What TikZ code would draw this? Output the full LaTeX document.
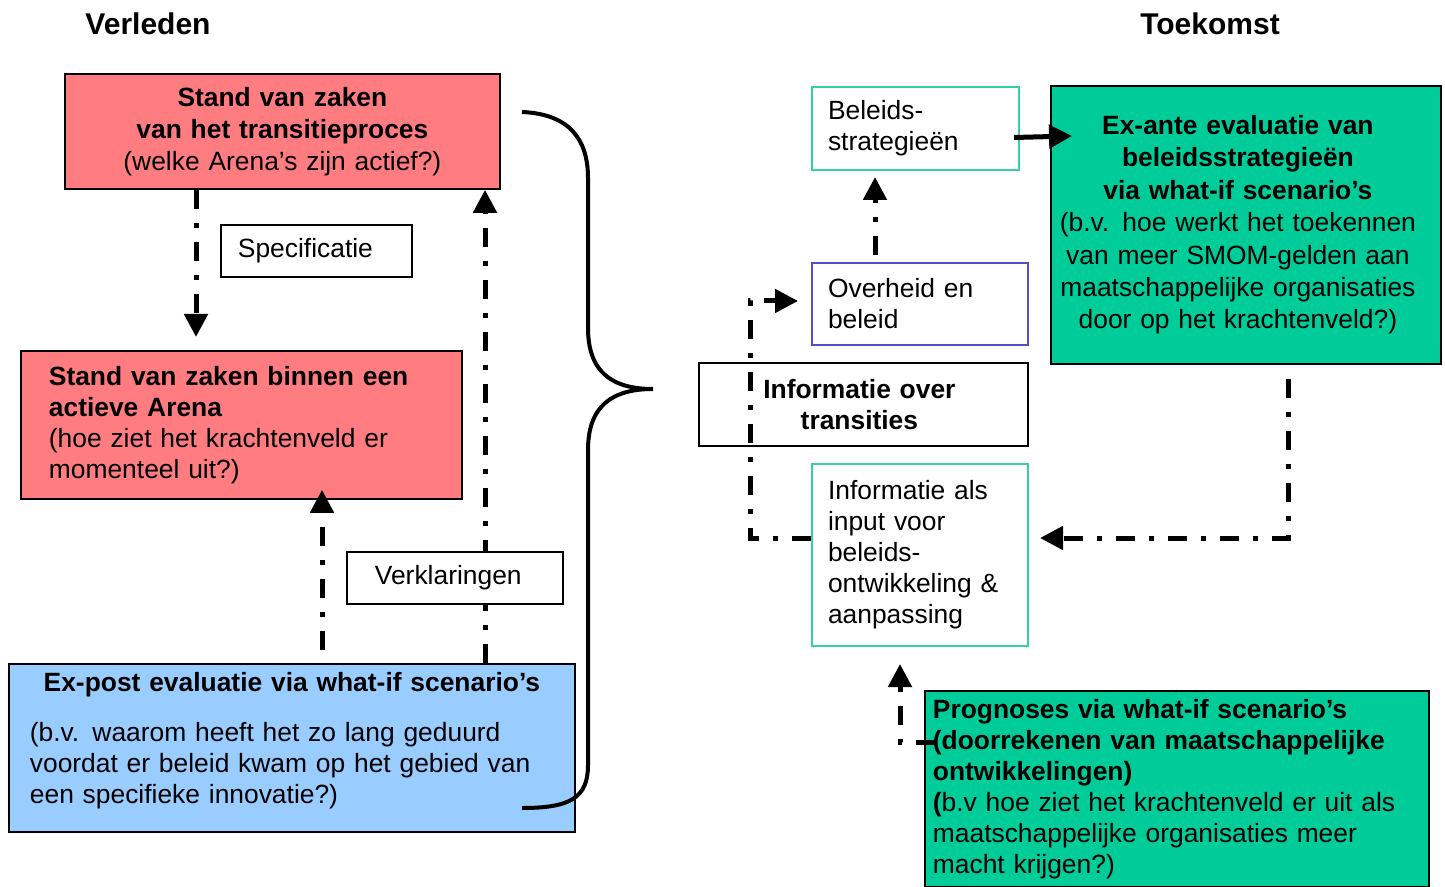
\documentclass[tikz,border=0pt]{standalone}
\usepackage{fontspec}
\setmainfont{Liberation Sans}
\usetikzlibrary{arrows.meta,positioning,calc}
\definecolor{coral}{HTML}{FF7C80}
\definecolor{skyblue}{HTML}{99CCFF}
\definecolor{seagreen}{HTML}{00CC99}
\definecolor{tealline}{HTML}{33D1A3}
\definecolor{bluline}{HTML}{5050C8}

\begin{document}
\begin{tikzpicture}[x=0.5pt,y=-0.5pt,
    font=\fontsize{13.2}{15.5}\selectfont,
    box/.style={draw,line width=0.9pt,anchor=north west,inner xsep=4pt,inner ysep=0pt},
    thinbox/.style={box,line width=1pt,inner xsep=8pt,align=left},
    heading/.style={font=\fontsize{15}{18}\selectfont\bfseries},
    flow/.style={line width=2.5pt,dash pattern=on 9.5pt off 7pt on 2.5pt off 7pt,
      -{Triangle[length=11.5pt,width=11.5pt]}},
    push/.style={line width=2.5pt,-{Triangle[length=11.5pt,width=11.5pt]}}]
    \useasboundingbox (0,0) rectangle (1445,887);

    % Verleden
    \node[heading] (verleden) at (148,24) {Verleden};
    \node[box,fill=coral,minimum width=217.5pt,minimum height=57.5pt,text width=209.5pt,align=center,
          font=\fontsize{13.2}{16}\selectfont] (stand) at (64,73)
        {\textbf{Stand van zaken}\\ \textbf{van het transitieproces}\\ (welke Arena’s zijn actief?)};
    \node[box,fill=coral,minimum width=220.5pt,minimum height=74pt,inner xsep=14pt,text width=192.5pt,align=left] (arena) at (20,350)
        {\textbf{Stand van zaken binnen een}\\ \textbf{actieve Arena}\\ (hoe ziet het krachtenveld er\\ momenteel uit?)};
    \node[box,fill=skyblue,minimum width=283pt,minimum height=84pt,inner xsep=10.5pt,text width=262pt,align=left] (expost) at (8,663)
        {\makebox[262pt]{\bfseries Ex-post evaluatie via what-if scenario’s}\\[9.5pt]
         (b.v. waarom heeft het zo lang geduurd\\ voordat er beleid kwam op het gebied van\\ een specifieke innovatie?)\rule[-9.5pt]{0pt}{1pt}};
    \node[box,fill=white,minimum width=95.5pt,minimum height=26pt,inner xsep=8.5pt,text width=78.5pt,align=left] (spec) at (220,224) {Specificatie};

    \draw[flow] ($(stand.south west)+(132,0)$) -- ($(arena.north west)+(176,-13)$);
    \draw[flow] ($(expost.north west)+(477,0)$) -- ($(stand.south west)+(421,0)$);
    \draw[flow] ($(expost.north west)+(314,-13)$) -- ($(arena.south west)+(302,-10)$);

    \node[box,fill=white,minimum width=108pt,minimum height=26pt,inner xsep=14pt,text width=80pt,align=left] (verkl) at (346,551) {Verklaringen};

    % accolade
    \draw[line width=2pt] (522,112) .. controls (570,114) and (588,140) .. (588,178) -- (588,328)
        .. controls (588,372) and (612,389) .. (653,389) .. controls (612,389) and (588,406) .. (588,450)
        -- (588,765) .. controls (588,798) and (570,808) .. (522,808);

    % Toekomst
    \node[heading] (toekomst) at (1210,24) {Toekomst};
    \node[thinbox,draw=tealline,minimum width=103.5pt,minimum height=41.5pt,text width=87.5pt] (strat) at (811,86)
        {Beleids-\\ strategieën};
    \node[box,fill=seagreen,minimum width=195pt,minimum height=139pt,text width=187pt,align=left] (exante) at (1050,85)
        {\parbox{179pt}{\centering\fontsize{13.2}{16.2}\selectfont
         \textbf{Ex-ante evaluatie van}\\ \textbf{beleidsstrategieën}\\ \textbf{via what-if scenario’s}\\
         (b.v. hoe werkt het toekennen\\ van meer SMOM-gelden aan\\ maatschappelijke organisaties\\ door op het krachtenveld?)}};
    \node[thinbox,draw=bluline,minimum width=108pt,minimum height=41pt,text width=92pt] (overheid) at (811,262)
        {Overheid en\\ beleid};
    \node[box,minimum width=164.5pt,minimum height=41.5pt,text width=156.5pt,align=left] (info) at (698,362)
        {\parbox{152.5pt}{\centering\textbf{Informatie over}\\ \textbf{transities}}};
    \node[thinbox,draw=tealline,minimum width=108pt,minimum height=91pt,text width=92pt] (input) at (811,463)
        {Informatie als\\ input voor\\ beleids-\\ ontwikkeling \&\\ aanpassing};
    \node[box,fill=seagreen,minimum width=252pt,minimum height=98pt,text width=244pt,align=left] (prognose) at (924,690)
        {\textbf{Prognoses via what-if scenario’s}\\ \textbf{(doorrekenen van maatschappelijke}\\ \textbf{ontwikkelingen)}\\
         \textbf{(}b.v hoe ziet het krachtenveld er uit als\\ maatschappelijke organisaties meer\\ macht krijgen?)};

    \draw[push] ($(strat.east)+(-6,9)$) -- ($(exante.north west)+(22,51)$);
    \draw[flow] ($(overheid.north west)+(64,-7)$) -- ($(strat.south west)+(64,6)$);
    \draw[flow] ($(input.north west)+(0,75)$) -| ($(overheid.west)+(-61,-3)$) -- ($(overheid.west)+(-13,-3)$);
    \draw[flow] ($(exante.south west)+(238,14)$) |- ($(input.north east)+(11,75)$);
    \draw[flow] ($(prognose.north west)+(11,52)$) -| ($(input.south west)+(89,17)$);
\end{tikzpicture}
\end{document}
